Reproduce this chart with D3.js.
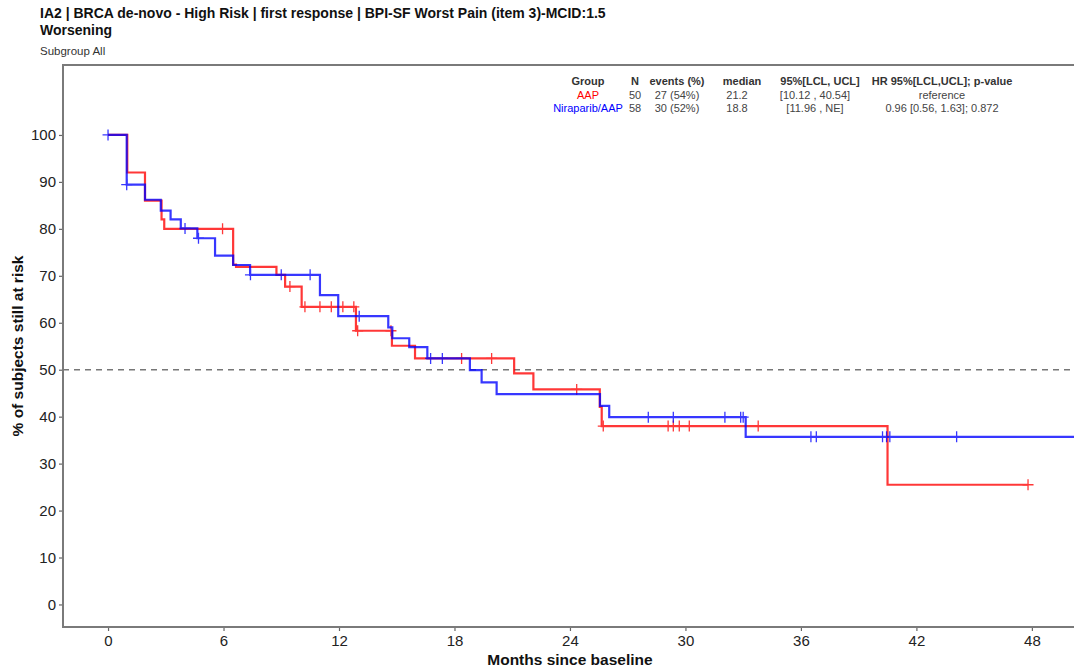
<!DOCTYPE html>
<html>
<head>
<meta charset="utf-8">
<script src="https://cdn.jsdelivr.net/npm/d3@7"></script>
<style>
  html, body { margin: 0; padding: 0; background: #fff; }
  svg { display: block; font-family: "Liberation Sans", Arial, sans-serif; }
</style>
</head>
<body>
<svg id="chart" width="1074" height="670"></svg>
<script>
// Kaplan-Meier step curves: time of each step (months) and % still at risk after it
const aapTimes = [0, 1.0, 1.92, 2.78, 2.92, 6.5, 6.65, 8.75, 9.2, 10.06, 12.88, 14.75, 15.95, 21.1, 22.1, 25.55, 25.65, 40.5];
const aapSurv  = [100, 92, 86, 82, 80, 72.4, 71.9, 70.2, 67.7, 63.4, 58.3, 55.1, 52.4, 49.2, 45.8, 42.1, 38.0, 25.5];
const aapEnd = 47.8;
const aapCensor = [5.95, 9.45, 10.23, 11.01, 11.6, 12.2, 12.77, 12.97, 14.7, 18.37, 19.93, 24.35, 25.73, 29.1, 29.37, 29.68, 30.2, 33.78, 47.8];

const niraTimes = [0, 0.97, 1.92, 2.74, 3.25, 3.78, 4.64, 5.56, 6.5, 7.38, 11.01, 11.96, 14.56, 14.77, 15.65, 16.59, 18.8, 19.41, 20.19, 25.56, 26.04, 33.13];
const niraSurv  = [100, 89.4, 86.2, 83.9, 82.0, 80.1, 78.0, 74.3, 72.3, 70.2, 65.9, 61.4, 59.0, 56.7, 54.8, 52.4, 49.9, 47.3, 44.8, 42.3, 39.9, 35.7];
const niraEnd = 51.5;
const niraCensor = [0, 0.97, 4.0, 4.7, 7.4, 9.0, 10.5, 13.05, 16.76, 17.37, 28.07, 29.37, 32.05, 32.87, 33.0, 36.52, 36.8, 40.24, 40.45, 40.62, 44.09];

const xTicks = [0, 6, 12, 18, 24, 30, 36, 42, 48];
const yTicks = [0, 10, 20, 30, 40, 50, 60, 70, 80, 90, 100];

// Summary table
const tableHeader = ["Group", "N", "events (%)", "median", "95%[LCL, UCL]", "HR 95%[LCL,UCL]; p-value"];
const groupNames = ["AAP", "Niraparib/AAP"];
const groupN = ["50", "58"];
const groupEvents = ["27 (54%)", "30 (52%)"];
const groupMedian = ["21.2", "18.8"];
const groupCI = ["[10.12 , 40.54]", "[11.96 , NE]"];
const groupHR = ["reference", "0.96 [0.56, 1.63]; 0.872"];
const groupColors = ["#ff0000", "#0000ff"];

const titleLines = ["IA2 | BRCA de-novo - High Risk | first response | BPI-SF Worst Pain (item 3)-MCID:1.5", "Worsening"];
const subtitle = "Subgroup All";
const xLabel = "Months since baseline";
const yLabel = "% of subjects still at risk";
const refLine = 50;

const svg = d3.select("#chart");
const plot = { left: 63, top: 65, right: 1080, bottom: 627 };

const x = d3.scaleLinear().domain([-2.34, 50.5]).range([plot.left, plot.right]);
const y = d3.scaleLinear().domain([-4.8, 114.9]).range([plot.bottom, plot.top]);

// Titles
svg.append("text").attr("x", 40).attr("y", 18).attr("font-size", 14).attr("font-weight", "bold").attr("fill", "#111").text(titleLines[0]);
svg.append("text").attr("x", 40).attr("y", 35).attr("font-size", 14).attr("font-weight", "bold").attr("fill", "#111").text(titleLines[1]);
svg.append("text").attr("x", 40).attr("y", 55).attr("font-size", 11.5).attr("fill", "#333").text(subtitle);

// Clip to plot area
svg.append("clipPath").attr("id", "clip").append("rect")
  .attr("x", plot.left).attr("y", plot.top)
  .attr("width", plot.right - plot.left).attr("height", plot.bottom - plot.top);

// Axes
const xAxis = d3.axisBottom(x).tickValues(xTicks).tickSize(4).tickPadding(4);
const yAxis = d3.axisLeft(y).tickValues(yTicks).tickSize(4).tickPadding(3);

const gx = svg.append("g").attr("transform", `translate(0,${plot.bottom})`).call(xAxis);
const gy = svg.append("g").attr("transform", `translate(${plot.left},0)`).call(yAxis);
[gx, gy].forEach(g => {
  g.select(".domain").remove();
  g.selectAll(".tick line").attr("stroke", "#666").attr("stroke-width", 1.2);
  g.selectAll(".tick text").attr("font-size", 15).attr("fill", "#222").attr("font-family", "Liberation Sans, Arial, sans-serif");
});

// Frame
svg.append("rect")
  .attr("x", plot.left).attr("y", plot.top)
  .attr("width", plot.right - plot.left).attr("height", plot.bottom - plot.top)
  .attr("fill", "none").attr("stroke", "#7a7a7a").attr("stroke-width", 2);

// Axis titles
svg.append("text").attr("x", (x(0) + x(48)) / 2).attr("y", 665).attr("text-anchor", "middle")
  .attr("font-size", 15.5).attr("font-weight", "bold").attr("fill", "#111").text(xLabel);
svg.append("text").attr("transform", `translate(23,${(plot.top + plot.bottom) / 2}) rotate(-90)`)
  .attr("text-anchor", "middle").attr("font-size", 15.5).attr("font-weight", "bold").attr("fill", "#111").text(yLabel);

const body = svg.append("g").attr("clip-path", "url(#clip)");

// 50% reference line
body.append("line")
  .attr("x1", plot.left).attr("x2", plot.right)
  .attr("y1", y(refLine)).attr("y2", y(refLine))
  .attr("stroke", "#777").attr("stroke-width", 1.5).attr("stroke-dasharray", "6,5");

function stepPoints(times, surv, end) {
  const pts = times.map((t, i) => [t, surv[i]]);
  pts.push([end, surv[surv.length - 1]]);
  return pts;
}
function survAt(times, surv, t) {
  let v = surv[0];
  for (let i = 0; i < times.length; i++) if (times[i] <= t) v = surv[i];
  return v;
}

const line = d3.line().x(d => x(d[0])).y(d => y(d[1])).curve(d3.curveStepAfter);

const groups = [
  { times: aapTimes, surv: aapSurv, end: aapEnd, censor: aapCensor, color: groupColors[0] },
  { times: niraTimes, surv: niraSurv, end: niraEnd, censor: niraCensor, color: groupColors[1] }
];

groups.forEach(gr => {
  const g = body.append("g").attr("opacity", 0.78);
  g.append("path")
    .datum(stepPoints(gr.times, gr.surv, gr.end))
    .attr("d", line)
    .attr("fill", "none").attr("stroke", gr.color).attr("stroke-width", 2.2);
  const cs = 5.5;
  g.selectAll("path.cens").data(gr.censor).enter().append("path")
    .attr("class", "cens")
    .attr("d", t => {
      const cx = x(t), cy = y(survAt(gr.times, gr.surv, t));
      return `M${cx - cs},${cy}H${cx + cs}M${cx},${cy - cs}V${cy + cs}`;
    })
    .attr("stroke", gr.color).attr("stroke-width", 1.3).attr("fill", "none");
});

// Summary table in the upper right
const colX = [588, 635, 677, 742, 820, 942];
const rowY = [85, 98.5, 112];
const table = svg.append("g").attr("font-size", 11).attr("text-anchor", "middle");
tableHeader.forEach((h, i) => {
  table.append("text").attr("x", colX[i]).attr("y", rowY[0]).attr("font-weight", "bold").attr("fill", "#333").text(h);
});
groupNames.forEach((name, r) => {
  const yy = rowY[r + 1];
  const cells = [name, groupN[r], groupEvents[r], groupMedian[r], groupCI[r], groupHR[r]];
  cells.forEach((c, i) => {
    table.append("text").attr("x", i === 3 || i === 4 ? colX[i] - 5 : colX[i])
      .attr("y", yy).attr("fill", i === 0 ? groupColors[r] : "#444").text(c);
  });
});
</script>
</body>
</html>
